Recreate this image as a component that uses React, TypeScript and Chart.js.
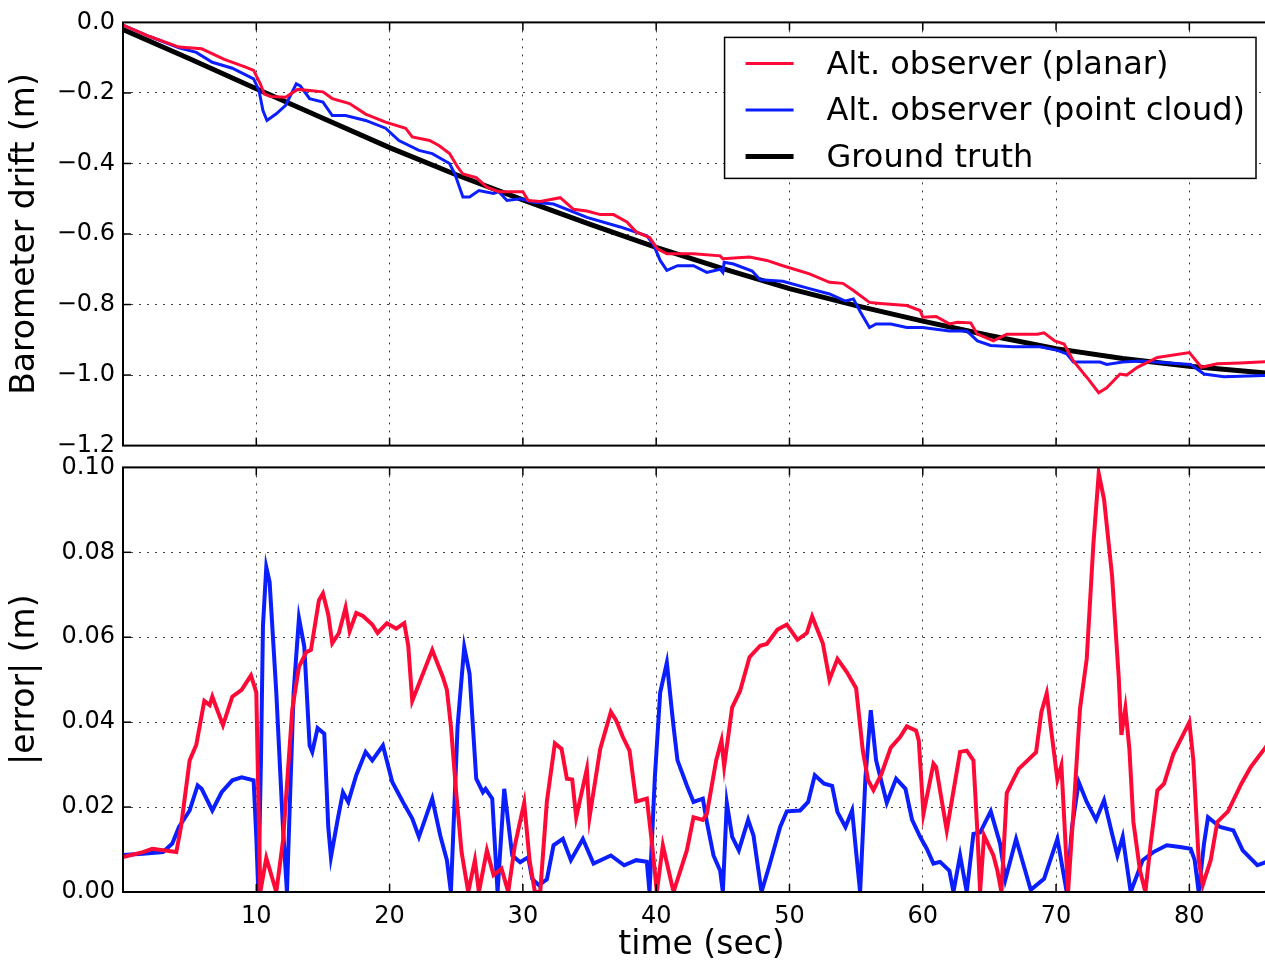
import React, { useEffect, useRef } from 'react';
import { Chart, registerables } from 'chart.js';

Chart.register(...registerables);

const FONT = '"DejaVu Sans", "Liberation Sans", sans-serif';
const RED = '#ff0a37';
const BLUE = '#0a1eff';
const BLACK = '#000000';
const GRID = 'rgba(0,0,0,0.75)';
const X_MIN = 0;
const X_MAX = 86.8;
const Y_AXIS_WIDTH = 123;

const seriesLabels = ['Alt. observer (planar)', 'Alt. observer (point cloud)', 'Ground truth'];
const xTitle = 'time (sec)';
const driftTitle = 'Barometer drift (m)';
const errorTitle = '|error| (m)';

// ---- Top panel: barometer drift (m) ----
const planarDriftT = [0, 2, 4.2, 5.9, 6.2, 7.6, 9.2, 9.8, 10.3, 10.6, 11.1, 12.2, 13.1, 14, 15, 15.7, 17, 18.2, 19.7, 21.2, 21.7, 23, 23.7, 24.5, 25.1, 25.5, 26.5, 27.3, 28.2, 30, 30.4, 31.3, 32.8, 33.8, 34.8, 35.8, 36.8, 37.8, 38.5, 39.5, 40.1, 40.8, 42.8, 44.8, 45, 47, 48.3, 49.5, 51.5, 53, 54, 54.8, 56, 56.8, 58.8, 59.8, 60, 61, 62, 62.6, 63.6, 64.1, 65.3, 66.3, 68.6, 69.1, 69.9, 70.6, 71.3, 72.3, 73.2, 73.8, 74.8, 75.3, 76.1, 77.6, 80, 80.9, 82.1, 83.8, 86.8];
const planarDriftV = [-0.008, -0.04, -0.07, -0.075, -0.08, -0.105, -0.127, -0.136, -0.174, -0.203, -0.21, -0.212, -0.19, -0.193, -0.197, -0.216, -0.23, -0.26, -0.283, -0.3, -0.325, -0.335, -0.349, -0.372, -0.41, -0.43, -0.44, -0.467, -0.48, -0.48, -0.505, -0.508, -0.497, -0.53, -0.535, -0.545, -0.545, -0.566, -0.594, -0.61, -0.642, -0.656, -0.656, -0.662, -0.67, -0.665, -0.675, -0.69, -0.713, -0.737, -0.74, -0.76, -0.794, -0.797, -0.803, -0.817, -0.836, -0.834, -0.855, -0.85, -0.852, -0.884, -0.903, -0.884, -0.884, -0.88, -0.903, -0.912, -0.96, -1.006, -1.05, -1.036, -0.997, -1.0, -0.978, -0.95, -0.936, -0.978, -0.968, -0.966, -0.96];

const cloudDriftT = [0, 2, 4.2, 5.5, 6.7, 8.2, 9.8, 10.2, 10.5, 10.8, 11.5, 12.2, 13, 13.3, 14, 15, 15.7, 16.7, 18.2, 19.7, 20.7, 22.2, 23.2, 24.5, 24.9, 25.5, 26, 26.7, 27.8, 28.2, 28.8, 29.8, 30.8, 32.3, 34.8, 37.3, 39.3, 39.8, 40.3, 40.8, 41.6, 42.8, 43.8, 44.8, 45, 45.1, 45.8, 47.2, 47.8, 49.5, 51.5, 53, 54.2, 54.8, 55.3, 56, 56.5, 57.6, 58.8, 60, 62, 63.3, 64.1, 65.1, 66.8, 68.8, 70.1, 70.8, 71.3, 73.3, 73.8, 75, 76.3, 80.1, 81.1, 82.6, 86.8];
const cloudDriftV = [-0.008, -0.04, -0.072, -0.085, -0.113, -0.13, -0.16, -0.193, -0.25, -0.278, -0.259, -0.235, -0.174, -0.18, -0.216, -0.226, -0.264, -0.264, -0.278, -0.3, -0.335, -0.363, -0.372, -0.4, -0.43, -0.495, -0.495, -0.477, -0.485, -0.48, -0.505, -0.5, -0.51, -0.515, -0.553, -0.58, -0.605, -0.63, -0.675, -0.703, -0.69, -0.69, -0.709, -0.7, -0.709, -0.68, -0.685, -0.705, -0.73, -0.734, -0.755, -0.77, -0.79, -0.784, -0.82, -0.865, -0.855, -0.855, -0.865, -0.865, -0.875, -0.875, -0.903, -0.916, -0.92, -0.92, -0.93, -0.94, -0.963, -0.963, -0.97, -0.963, -0.96, -0.97, -0.997, -1.005, -1.0];

const truthDriftT = [0, 5, 10, 15, 20, 25, 30, 35, 40, 45, 50, 55, 60, 65, 70, 75, 80, 86.8];
const truthDriftV = [-0.02, -0.103, -0.188, -0.272, -0.355, -0.432, -0.503, -0.572, -0.638, -0.698, -0.755, -0.803, -0.847, -0.888, -0.925, -0.953, -0.975, -0.998];

// ---- Bottom panel: |error| (m) ----
const planarErrT = [0, 1.5, 2.2, 4.0, 4.35, 5.0, 5.5, 6.1, 6.5, 6.7, 7.5, 8.2, 8.9, 9.6, 10, 10.1, 10.3, 10.75, 11.1, 11.5, 12, 12.7, 13.2, 13.75, 14.1, 14.7, 15, 15.4, 15.7, 16.2, 16.7, 17, 17.5, 18, 18.7, 19.1, 19.8, 20.5, 21.1, 21.4, 21.7, 22.2, 23.2, 24, 24.3, 24.6, 25, 25.4, 25.9, 26.4, 26.7, 27.3, 27.8, 28.4, 28.9, 29.4, 30.1, 30.5, 30.9, 31.3, 31.8, 32.4, 32.9, 33.3, 33.7, 34, 34.8, 35.0, 35.8, 36.6, 37, 37.5, 38, 38.5, 39.3, 39.7, 40.05, 40.5, 41.3, 42.3, 42.8, 43.5, 43.8, 44.5, 44.9, 45.1, 45.7, 46.3, 47, 47.8, 48.3, 49.1, 49.8, 50.6, 51.3, 51.7, 52.5, 53, 53.6, 54.3, 55, 55.5, 55.9, 56.3, 56.9, 57.6, 58.3, 58.8, 59.5, 59.7, 60.05, 60.8, 61, 61.8, 62.8, 63.3, 63.8, 64.1, 64.3, 64.6, 65.3, 65.6, 65.9, 66.3, 66.8, 67.2, 68.5, 68.9, 69.3, 69.6, 70.1, 70.4, 70.9, 71.4, 71.8, 72.3, 72.8, 73.2, 73.6, 74.2, 74.7, 74.9, 75.2, 75.5, 75.8, 76.3, 76.7, 77.1, 77.6, 78.1, 78.8, 80, 80.3, 80.7, 81, 81.6, 82.1, 82.9, 83.9, 84.6, 85.7, 86.8];
const planarErrV = [0.0082, 0.0094, 0.0102, 0.0094, 0.0153, 0.031, 0.0347, 0.045, 0.044, 0.046, 0.0393, 0.046, 0.0476, 0.051, 0.047, 0.031, 0.0, 0.008, 0.0043, 0.0, 0.012, 0.043, 0.053, 0.0565, 0.057, 0.0687, 0.0703, 0.0653, 0.0586, 0.061, 0.067, 0.0614, 0.0657, 0.065, 0.063, 0.061, 0.0633, 0.062, 0.0633, 0.058, 0.045, 0.049, 0.057, 0.0506, 0.0476, 0.039, 0.0233, 0.0094, 0.0, 0.0075, 0.0, 0.0098, 0.004, 0.0055, 0.0, 0.011, 0.021, 0.0075, 0.0, 0.0, 0.0213, 0.035, 0.0337, 0.0267, 0.0265, 0.0176, 0.029, 0.0176, 0.0337, 0.0424, 0.0404, 0.0365, 0.0333, 0.0213, 0.022, 0.011, 0.0, 0.011, 0.0, 0.0098, 0.0176, 0.017, 0.0184, 0.031, 0.0357, 0.0296, 0.0435, 0.0474, 0.0553, 0.058, 0.0584, 0.0618, 0.063, 0.0594, 0.061, 0.0649, 0.0586, 0.05, 0.0549, 0.0518, 0.048, 0.0333, 0.0263, 0.024, 0.0278, 0.034, 0.0365, 0.039, 0.038, 0.0357, 0.0184, 0.0302, 0.0294, 0.0145, 0.033, 0.0333, 0.031, 0.014, 0.0, 0.0133, 0.0086, 0.005, 0.0, 0.0233, 0.0265, 0.029, 0.0329, 0.0424, 0.0468, 0.039, 0.0265, 0.0298, 0.0, 0.0235, 0.0433, 0.0549, 0.082, 0.0986, 0.0925, 0.0745, 0.0506, 0.037, 0.0433, 0.0337, 0.0165, 0.005, 0.0, 0.0114, 0.0239, 0.0255, 0.0325, 0.04, 0.031, 0.0075, 0.0016, 0.0075, 0.0165, 0.019, 0.0255, 0.0294, 0.034, 0.039];

const cloudErrT = [0, 1.5, 3.0, 3.7, 4.2, 5.0, 5.6, 5.9, 6.7, 7.4, 8.2, 8.9, 9.8, 10, 10.15, 10.35, 10.5, 10.75, 11, 11.5, 12, 12.3, 12.5, 12.8, 13.2, 13.6, 14, 14.2, 14.6, 15.1, 15.4, 15.6, 16.1, 16.5, 16.9, 17.5, 18.2, 18.7, 19.5, 20.2, 21, 21.7, 22.2, 23.2, 23.8, 24.3, 24.6, 25.1, 25.6, 26, 26.5, 27, 27.2, 27.7, 28.1, 28.6, 29.2, 29.8, 30.4, 30.7, 31.2, 31.8, 32.3, 33, 33.6, 34.5, 35.3, 36.6, 37.6, 38.5, 39.3, 39.5, 39.9, 40.3, 40.8, 41.3, 41.6, 42.3, 42.8, 43.5, 43.8, 44.3, 44.8, 45, 45.3, 45.7, 46.2, 46.9, 47.3, 47.9, 48.5, 49.3, 49.8, 50.8, 51.4, 51.9, 52.6, 53.2, 53.6, 54.2, 54.7, 55.0, 55.3, 55.7, 56.1, 56.5, 57.3, 58, 58.7, 59.2, 59.8, 60.3, 60.8, 61.3, 62, 62.3, 62.8, 63.3, 63.8, 64.3, 65.1, 65.8, 66.2, 67, 68.1, 69.1, 70.1, 70.8, 71.2, 71.7, 72.3, 73, 73.6, 74.2, 74.6, 75, 75.6, 76.5, 77.3, 78.3, 79.3, 80.1, 80.4, 80.7, 81.1, 81.4, 82.3, 83.3, 84, 85.1, 85.7, 86.8];
const cloudErrV = [0.0087, 0.009, 0.0094, 0.0114, 0.0153, 0.0192, 0.0251, 0.0243, 0.0192, 0.0235, 0.0263, 0.027, 0.0263, 0.013, 0.0, 0.031, 0.0627, 0.0765, 0.073, 0.047, 0.0153, 0.0, 0.0192, 0.047, 0.0645, 0.0578, 0.0345, 0.033, 0.0386, 0.0373, 0.0153, 0.0082, 0.017, 0.0235, 0.0212, 0.0275, 0.033, 0.031, 0.0345, 0.0259, 0.0212, 0.0173, 0.013, 0.022, 0.0133, 0.0075, 0.0, 0.039, 0.0577, 0.0514, 0.0267, 0.0235, 0.0243, 0.022, 0.0, 0.0243, 0.0086, 0.007, 0.0082, 0.0031, 0.0016, 0.003, 0.011, 0.0125, 0.0075, 0.0125, 0.0067, 0.0086, 0.0063, 0.0075, 0.0071, 0.0, 0.027, 0.047, 0.054, 0.039, 0.031, 0.0251, 0.0212, 0.022, 0.0165, 0.0086, 0.005, 0.0, 0.021, 0.013, 0.0098, 0.017, 0.0133, 0.0, 0.0063, 0.0153, 0.019, 0.0192, 0.0212, 0.0275, 0.0255, 0.025, 0.0188, 0.0153, 0.0192, 0.0094, 0.0, 0.027, 0.0428, 0.031, 0.021, 0.0267, 0.0243, 0.017, 0.013, 0.0102, 0.0067, 0.0071, 0.005, 0.0, 0.0086, 0.0, 0.0137, 0.014, 0.019, 0.0114, 0.003, 0.0125, 0.0005, 0.0031, 0.0125, 0.0, 0.0153, 0.0259, 0.0212, 0.017, 0.0216, 0.0137, 0.0086, 0.013, 0.0, 0.0075, 0.0094, 0.011, 0.0106, 0.0102, 0.0075, 0.0, 0.0114, 0.0176, 0.0153, 0.0145, 0.0098, 0.0063, 0.007, 0.0065];

const toPoints = (t: number[], v: number[]) => t.map((x, i) => ({ x, y: v[i] }));

const framePlugin = {
  id: 'mplFrame',
  afterDatasetsDraw(chart: any) {
    const { ctx, chartArea: a, scales } = chart;
    const seg = (x1: number, y1: number, x2: number, y2: number) => {
      ctx.beginPath();
      ctx.moveTo(x1, y1);
      ctx.lineTo(x2, y2);
      ctx.stroke();
    };
    ctx.save();
    ctx.strokeStyle = '#000';
    ctx.lineWidth = 1.5;
    const xs = scales.x;
    xs.ticks.forEach((t: any) => {
      const px = xs.getPixelForValue(t.value);
      if (px <= a.left + 1 || px >= a.right - 1) return;
      seg(px, a.top, px, a.top + 8);
      seg(px, a.bottom, px, a.bottom - 8);
    });
    const ys = scales.y;
    ys.ticks.forEach((t: any) => {
      const py = ys.getPixelForValue(t.value);
      if (py <= a.top + 1 || py >= a.bottom - 1) return;
      seg(a.left, py, a.left + 8, py);
      seg(a.right, py, a.right - 8, py);
    });
    ctx.lineWidth = 2;
    ctx.strokeRect(a.left, a.top, a.right - a.left, a.bottom - a.top);
    ctx.restore();
  },
};

const boxLegendPlugin = {
  id: 'boxLegend',
  afterDraw(chart: any) {
    const { ctx, chartArea: a } = chart;
    const ds = chart.data.datasets;
    ctx.save();
    ctx.font = `32px ${FONT}`;
    const textW = Math.max(...ds.map((d: any) => ctx.measureText(d.label).width));
    const sampleStart = 21;
    const sampleLen = 48;
    const textOff = 102;
    const rowGap = 46.5;
    const firstRow = 26;
    const w = textOff + textW + 11;
    const h = 141;
    const right = a.right - 24;
    const top = a.top + 15;
    const left = right - w;
    ctx.fillStyle = '#fff';
    ctx.fillRect(left, top, w, h);
    ctx.strokeStyle = '#000';
    ctx.lineWidth = 1.5;
    ctx.strokeRect(left, top, w, h);
    ds.forEach((d: any, i: number) => {
      const y = top + firstRow + i * rowGap;
      ctx.strokeStyle = d.borderColor;
      ctx.lineWidth = d.borderWidth;
      ctx.beginPath();
      ctx.moveTo(left + sampleStart, y);
      ctx.lineTo(left + sampleStart + sampleLen, y);
      ctx.stroke();
      ctx.fillStyle = '#000';
      ctx.textBaseline = 'middle';
      ctx.textAlign = 'left';
      ctx.fillText(d.label, left + textOff, y + 2);
    });
    ctx.restore();
  },
};

const tickFont = { family: FONT, size: 24 };
const titleFont = { family: FONT, size: 33 };

function xAxis(showLabels: boolean) {
  return {
    type: 'linear' as const,
    min: X_MIN,
    max: X_MAX,
    ticks: {
      display: showLabels,
      stepSize: 10,
      includeBounds: false,
      autoSkip: false,
      maxRotation: 0,
      font: tickFont,
      color: '#000',
      padding: 10,
      callback: (v: any) => (Number(v) === 0 ? '' : String(v)),
    },
    grid: { drawTicks: false, color: GRID, lineWidth: 1 },
    border: { display: false, dash: [2, 6] },
    title: showLabels
      ? { display: true, text: xTitle, font: titleFont, color: '#000', padding: { top: 0, bottom: -2 } }
      : { display: false },
    afterFit: showLabels ? (s: any) => { s.height = 71; } : undefined,
  };
}

function yAxis(min: number, max: number, step: number, digits: number, title: string, minus: boolean) {
  return {
    type: 'linear' as const,
    min,
    max,
    ticks: {
      stepSize: step,
      font: tickFont,
      color: '#000',
      padding: 8,
      callback: (v: any) => {
        const n = Number(v);
        const s = Math.abs(n).toFixed(digits);
        return minus && n < -1e-9 ? '\u2212' + s : s;
      },
    },
    grid: { drawTicks: false, color: GRID, lineWidth: 1 },
    border: { display: false, dash: [2, 6] },
    title: { display: true, text: title, font: titleFont, color: '#000', padding: { top: 6, bottom: 0 } },
    afterFit: (s: any) => { s.width = Y_AXIS_WIDTH; },
  };
}

export default function App() {
  const topRef = useRef<HTMLCanvasElement>(null);
  const botRef = useRef<HTMLCanvasElement>(null);

  useEffect(() => {
    const line = (label: string, data: any[], color: string, width: number) => ({
      label,
      data,
      borderColor: color,
      backgroundColor: color,
      borderWidth: width,
      pointRadius: 0,
      tension: 0,
      fill: false,
    });

    const top = new Chart(topRef.current as HTMLCanvasElement, {
      type: 'line',
      data: {
        datasets: [
          line(seriesLabels[0], toPoints(planarDriftT, planarDriftV), RED, 3),
          line(seriesLabels[1], toPoints(cloudDriftT, cloudDriftV), BLUE, 3),
          line(seriesLabels[2], toPoints(truthDriftT, truthDriftV), BLACK, 5),
        ],
      },
      options: {
        animation: false,
        responsive: false,
        layout: { padding: { top: 22, bottom: 15, left: 0, right: 0 } },
        plugins: { legend: { display: false }, tooltip: { enabled: false } },
        scales: {
          x: xAxis(false) as any,
          y: yAxis(-1.2, 0, 0.2, 1, driftTitle, true) as any,
        },
      },
      plugins: [framePlugin, boxLegendPlugin],
    });

    const bot = new Chart(botRef.current as HTMLCanvasElement, {
      type: 'line',
      data: {
        datasets: [
          line(seriesLabels[0], toPoints(planarErrT, planarErrV), RED, 4),
          line(seriesLabels[1], toPoints(cloudErrT, cloudErrV), BLUE, 4),
        ],
      },
      options: {
        animation: false,
        responsive: false,
        layout: { padding: { top: 14, bottom: 0, left: 0, right: 0 } },
        plugins: { legend: { display: false }, tooltip: { enabled: false } },
        scales: {
          x: xAxis(true) as any,
          y: yAxis(0, 0.1, 0.02, 2, errorTitle, false) as any,
        },
      },
      plugins: [framePlugin],
    });

    return () => {
      top.destroy();
      bot.destroy();
    };
  }, []);

  return (
    <div
      style={{
        position: 'absolute',
        left: 0,
        top: 0,
        width: 1265,
        height: 963,
        overflow: 'hidden',
        background: '#fff',
      }}
    >
      <canvas
        ref={topRef}
        width={1280}
        height={468}
        style={{ position: 'absolute', left: 0, top: 0, width: 1280, height: 468 }}
      />
      <canvas
        ref={botRef}
        width={1280}
        height={518}
        style={{ position: 'absolute', left: 0, top: 445, width: 1280, height: 518 }}
      />
    </div>
  );
}
